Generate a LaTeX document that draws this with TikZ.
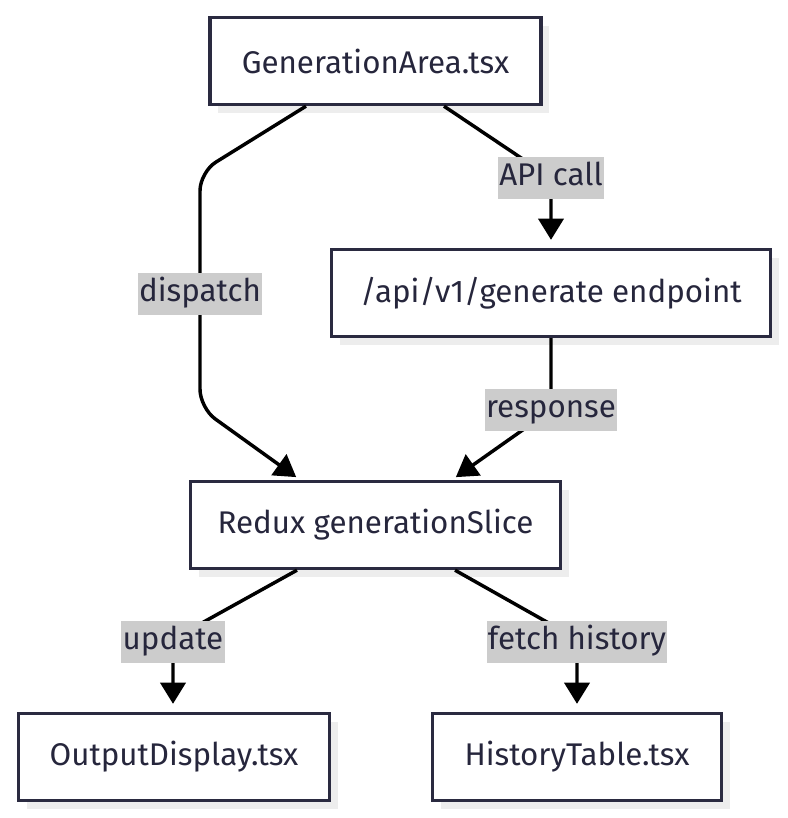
\documentclass[tikz,border=0pt]{standalone}
\usepackage{fontspec}
\setmainfont{Fira Sans}
\usetikzlibrary{arrows.meta,shadows}
\definecolor{ink}{HTML}{26263C}
\definecolor{bord}{HTML}{2A2A40}
\definecolor{shade}{HTML}{EDEDED}
\definecolor{lblbg}{HTML}{CCCCCC}
\tikzset{
  box/.style={draw=bord, line width=2.5pt, fill=white, text=ink,
    minimum height=65.25pt, inner sep=0pt, font=\fontsize{23.5}{28}\selectfont,
    general shadow={fill=shade, shadow xshift=6pt, shadow yshift=-6pt}},
  lbl/.style={fill=lblbg, text=ink, inner xsep=1pt, inner ysep=0pt,
    minimum height=31pt, font=\fontsize{23.5}{28}\selectfont},
  edge/.style={draw=black, line width=2.6pt,
    -{Triangle[length=16pt,width=19pt]}},
}
\begin{document}
\begin{tikzpicture}[x=0.75pt,y=-0.75pt]
\useasboundingbox (0,0) rectangle (788,818);
\node[box, minimum width=248.25pt] (ga) at (375.5,61) {GenerationArea.tsx};
\node[box, minimum width=329.25pt] (ep) at (551,293) {/api/v1/generate endpoint};
\node[box, minimum width=277.5pt] (rx) at (375.5,525) {Redux generationSlice};
\node[box, minimum width=233.25pt] (od) at (174,757) {OutputDisplay.tsx};
\node[box, minimum width=216.75pt] (ht) at (577,757) {HistoryTable.tsx};

\draw[edge, shorten >=6pt] (ga.south -| 444,0) -- (551,178) -- (ep.north -| 551,0);
\draw[edge, rounded corners=14pt, shorten >=3.5pt] (ga.south -| 306,0) -- (200,172) -- (200,408) -- (rx.north -| 300,0);
\draw[edge, shorten >=3.5pt] (ep.south -| 551,0) -- (551,410) -- (rx.north -| 452,0);
\draw[edge, shorten >=6pt] (rx.south -| 297,0) -- (173,639) -- (od.north -| 173,0);
\draw[edge, shorten >=6pt] (rx.south -| 455,0) -- (577,639) -- (ht.north -| 577,0);

\node[lbl] (l1) at (551,178) {\strut API call};
\node[lbl] (l2) at (200,294) {\strut dispatch};
\node[lbl] (l3) at (551,410) {\strut response};
\node[lbl] (l4) at (173,642) {\strut update};
\node[lbl] (l5) at (577,642) {\strut fetch history};
\end{tikzpicture}
\end{document}
